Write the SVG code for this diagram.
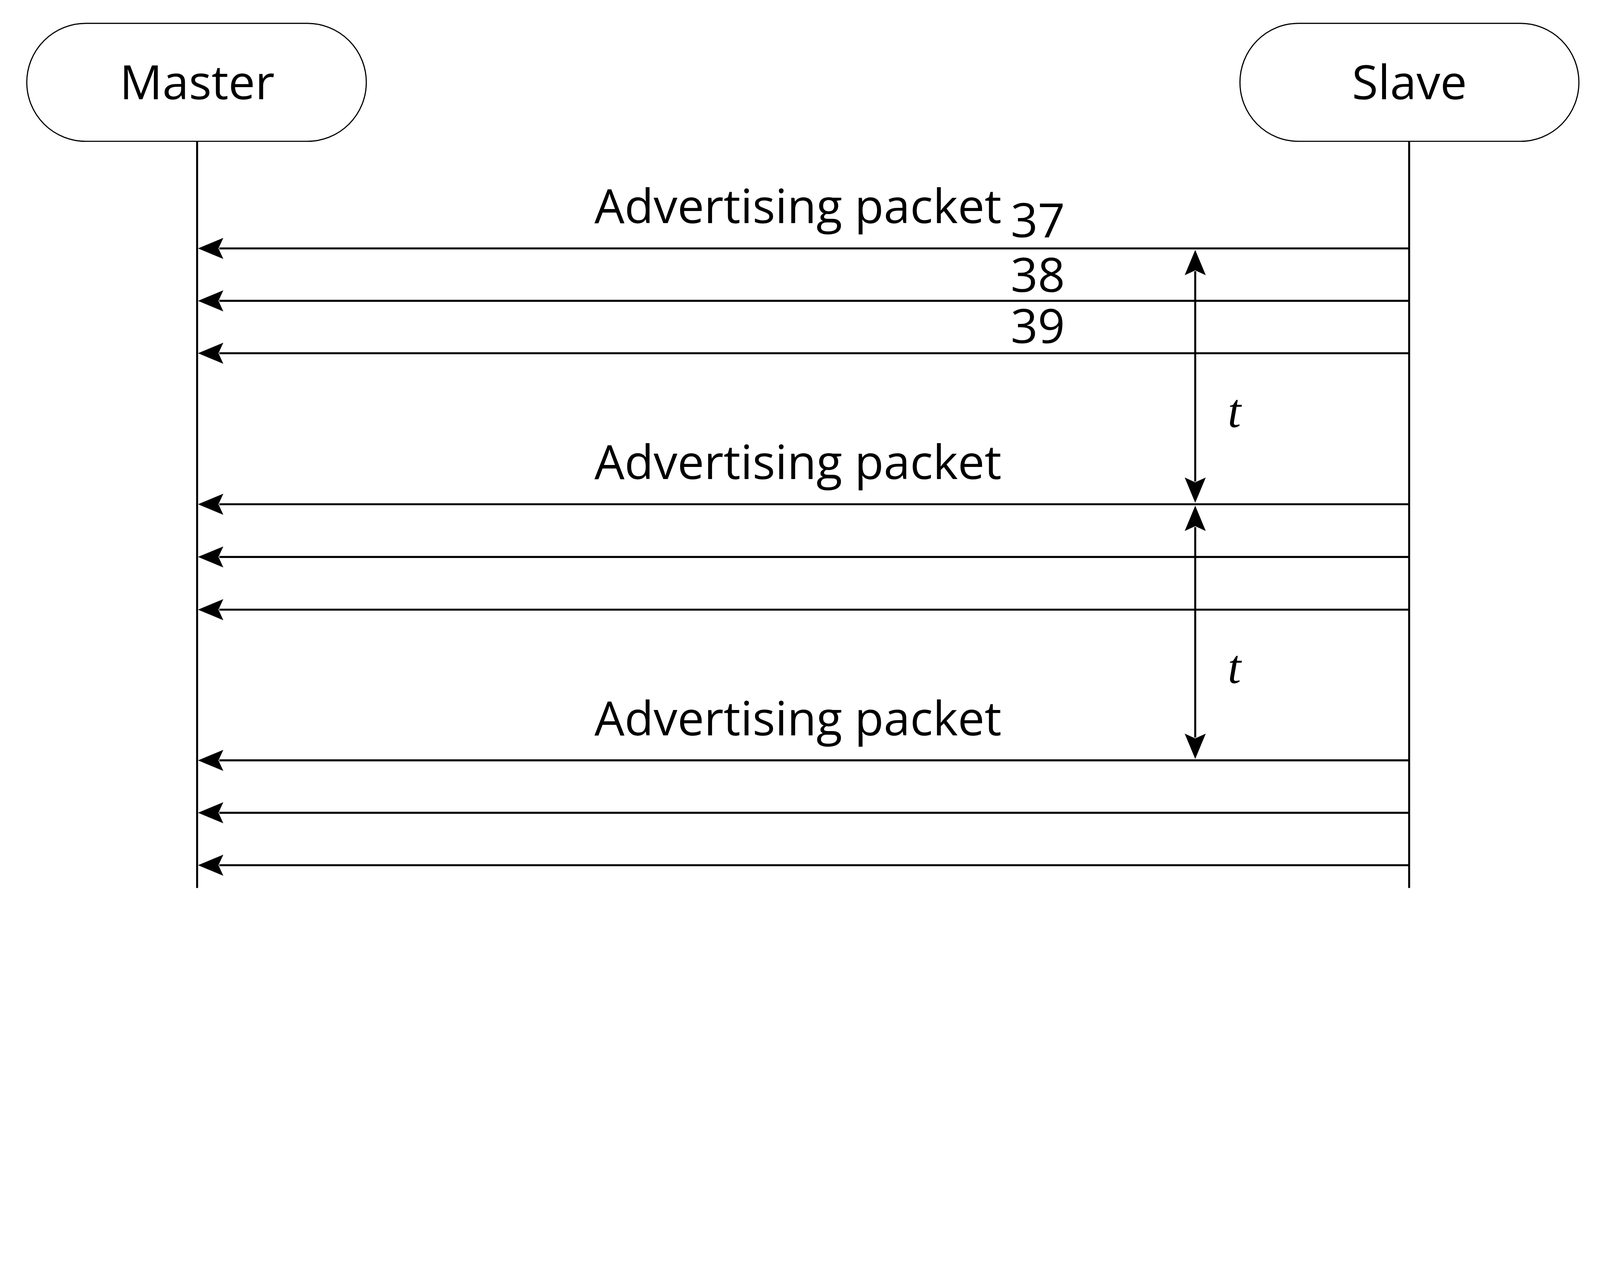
<svg xmlns="http://www.w3.org/2000/svg" width="5617" height="3263" viewBox="0 0 5617 3263" style="max-width:100%;height:auto">
<style>
.box{fill:#fff;stroke:#000;stroke-width:4}
.life{stroke:#000;stroke-width:7;fill:none}
.msg{stroke:#000;stroke-width:7;fill:none;marker-end:url(#ah)}
.dim{stroke:#000;stroke-width:7;fill:none;marker-start:url(#ah);marker-end:url(#ah)}
.lbl{font-family:"Open Sans","Liberation Sans",sans-serif;font-size:167px;fill:#000}
.t{font-family:"Liberation Serif","DejaVu Serif",serif;font-style:italic;font-size:167px;fill:#000}
</style>
<defs>
<marker id="ah" markerUnits="userSpaceOnUse" orient="auto-start-reverse" refX="0" refY="0" markerWidth="200" markerHeight="200" viewBox="-100 -100 200 200">
<path d="M75,0 L-14,-37 L3,0 L-14,37 Z" fill="#000"/>
</marker>
</defs>
<rect x="0" y="0" width="5617" height="3263" fill="#fff"/>
<g id="master">
<rect class="box" x="94" y="82" width="1192" height="414" rx="207" ry="207"/>
<text class="lbl" x="692" y="348" text-anchor="middle">Master</text>
</g>
<g id="slave">
<rect class="box" x="4353" y="82" width="1190" height="414" rx="205" ry="207"/>
<text class="lbl" x="4948" y="348" text-anchor="middle">Slave</text>
</g>
<g id="lifelines">
<line class="life" x1="692" y1="496" x2="692" y2="3117"/>
<line class="life" x1="4947" y1="496" x2="4947" y2="3117"/>
</g>
<g id="connectors">
<line class="msg" x1="4947" y1="872" x2="770" y2="872"/>
<line class="msg" x1="4947" y1="1056" x2="770" y2="1056"/>
<line class="msg" x1="4947" y1="1240" x2="770" y2="1240"/>
<line class="msg" x1="4947" y1="1770" x2="770" y2="1770"/>
<line class="msg" x1="4947" y1="1955" x2="770" y2="1955"/>
<line class="msg" x1="4947" y1="2140" x2="770" y2="2140"/>
<line class="msg" x1="4947" y1="2669" x2="770" y2="2669"/>
<line class="msg" x1="4947" y1="2853" x2="770" y2="2853"/>
<line class="msg" x1="4947" y1="3037" x2="770" y2="3037"/>
<line class="dim" x1="4196" y1="952" x2="4196" y2="1690"/>
<line class="dim" x1="4196" y1="1850" x2="4196" y2="2589"/>
</g>
<g id="labels">
<text class="lbl" x="2087" y="783">Advertising packet</text>
<text class="lbl" x="2087" y="1682">Advertising packet</text>
<text class="lbl" x="2087" y="2581">Advertising packet</text>
<text class="lbl" x="3548" y="833">37</text>
<text class="lbl" x="3548" y="1024">38</text>
<text class="lbl" x="3548" y="1204">39</text>
<text class="t" x="4310" y="1499">t</text>
<text class="t" x="4310" y="2397">t</text>
</g>
</svg>
